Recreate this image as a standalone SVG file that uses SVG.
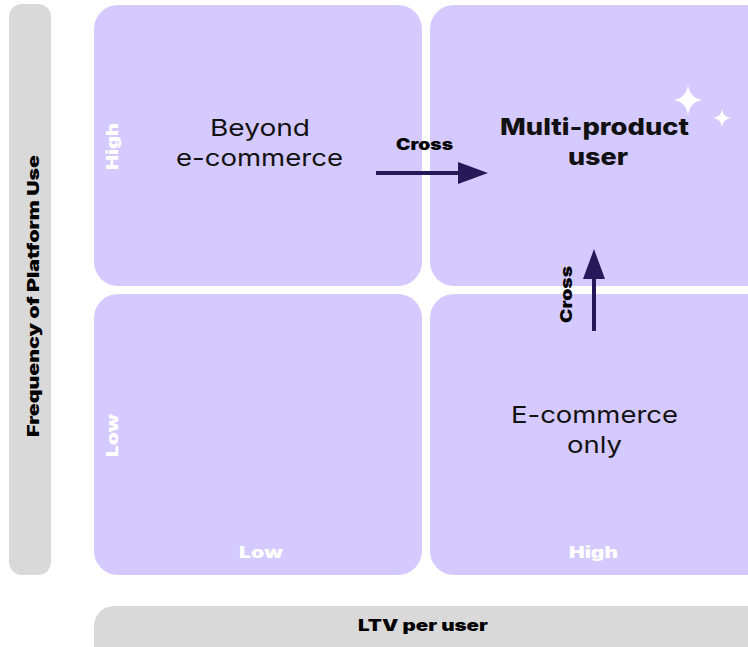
<svg xmlns="http://www.w3.org/2000/svg" width="748" height="647" viewBox="0 0 748 647">
<defs>
<style>
.quad{fill:#D5CAFF}
.bar{fill:#D9D9D9}
.main{font-family:"Inter","Noto Sans",sans-serif;font-size:23.5px;fill:#111;text-anchor:middle}
.bold{font-weight:800}
.ax{font-family:"Inter","Noto Sans",sans-serif;font-size:15.5px;font-weight:900;text-anchor:middle}
.wh{fill:#FFFFFF}
.bk{fill:#000}
.arrow{stroke:#25195A;stroke-width:4;fill:none}
.head{fill:#25195A}
</style>
</defs>
<rect width="748" height="647" fill="#FFFFFF"/>
<g id="y-axis">
<rect class="bar" x="9" y="4" width="42" height="571" rx="13"/>
<text class="ax bk" transform="translate(39,296) rotate(-90)" textLength="282" lengthAdjust="spacingAndGlyphs">Frequency of Platform Use</text>
</g>
<g id="x-axis">
<rect class="bar" x="94" y="606" width="680" height="60" rx="20"/>
<text class="ax bk" x="423" y="631" textLength="130" lengthAdjust="spacingAndGlyphs">LTV per user</text>
</g>
<g id="beyond-ecommerce">
<rect class="quad" x="94" y="5" width="328" height="281" rx="24"/>
<text class="ax wh" transform="translate(118,146.5) rotate(-90)" textLength="47" lengthAdjust="spacingAndGlyphs">High</text>
<text class="main" x="260" y="136" textLength="100" lengthAdjust="spacingAndGlyphs">Beyond</text>
<text class="main" x="259.5" y="166" textLength="167" lengthAdjust="spacingAndGlyphs">e-commerce</text>
</g>
<g id="multi-product-user">
<rect class="quad" x="430" y="5" width="340" height="281" rx="24"/>
<text class="main bold" x="594.5" y="135" textLength="189" lengthAdjust="spacingAndGlyphs">Multi-product</text>
<text class="main bold" x="598" y="165" textLength="60" lengthAdjust="spacingAndGlyphs">user</text>
<path class="wh" d="M688,85 Q690,98 702,100 Q690,102 688,115 Q686,102 674,100 Q686,98 688,85 Z"/>
<path class="wh" d="M722,109 Q723,117 731,118 Q723,119 722,127 Q721,119 713,118 Q721,117 722,109 Z"/>
</g>
<g id="low-low">
<rect class="quad" x="94" y="294" width="328" height="281" rx="24"/>
<text class="ax wh" transform="translate(118,435.5) rotate(-90)" textLength="43" lengthAdjust="spacingAndGlyphs">Low</text>
<text class="ax wh" x="261" y="558" textLength="44" lengthAdjust="spacingAndGlyphs">Low</text>
</g>
<g id="ecommerce-only">
<rect class="quad" x="430" y="294" width="340" height="281" rx="24"/>
<text class="main" x="594.5" y="423" textLength="167" lengthAdjust="spacingAndGlyphs">E-commerce</text>
<text class="main" x="594.5" y="453" textLength="55" lengthAdjust="spacingAndGlyphs">only</text>
<text class="ax wh" x="593.5" y="558" textLength="49" lengthAdjust="spacingAndGlyphs">High</text>
</g>
<g id="connectors">
<line class="arrow" x1="376" y1="173" x2="462" y2="173"/>
<polygon class="head" points="458,162 488,173 458,184"/>
<text class="ax bk" x="424.5" y="150" textLength="57" lengthAdjust="spacingAndGlyphs">Cross</text>
<line class="arrow" x1="594" y1="331" x2="594" y2="276"/>
<polygon class="head" points="583,279 594,249 605,279"/>
<text class="ax bk" transform="translate(572,294.5) rotate(-90)" textLength="57" lengthAdjust="spacingAndGlyphs">Cross</text>
</g>
</svg>
